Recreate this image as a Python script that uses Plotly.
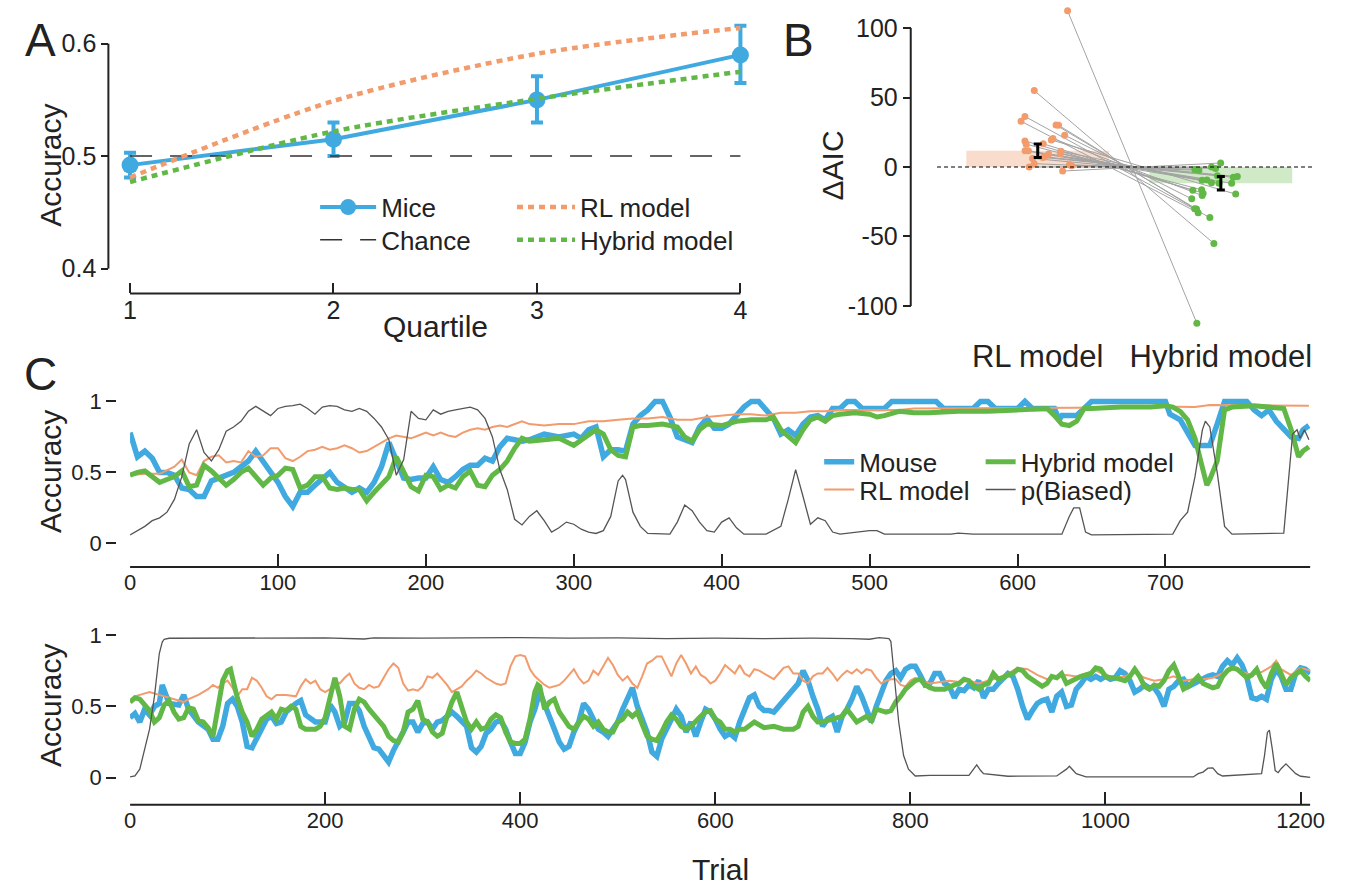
import numpy as np
import plotly.graph_objects as go

W, H = 1353, 890
FONT = "Liberation Sans, Arial, Helvetica, sans-serif"
BLUE = "#3FA9E0"
ORANGE = "#F29B6C"
GREEN = "#62B847"
GRAY = "#555555"
INK = "#222222"

# ---------------- Panel A data ----------------
quartiles = [1, 2, 3, 4]
mice_acc = [0.492, 0.515, 0.550, 0.590]
mice_err_hi = [0.011, 0.015, 0.021, 0.026]
mice_err_lo = [0.011, 0.015, 0.020, 0.025]
rl_acc = [0.481, 0.549, 0.591, 0.614]
hyb_acc = [0.477, 0.522, 0.551, 0.575]
chance = 0.5
a_yticks = [0.4, 0.5, 0.6]

# ---------------- Panel B data ----------------
b_categories = ["RL model", "Hybrid model"]
daic_rl = [112.4, 55.0, 36.4, 32.9, 30.2, 30.0, 22.9, 20.5, 19.5, 18.8, 16.7, 16.4, 11.7,
           11.7, 11.4, 9.5, 9.3, 7.4, 6.9, 6.2, 2.4, 1.7, 1.0, 0.0, -2.9]
daic_hyb = [-v for v in daic_rl]
jit_rl = [1.163, 0.981, 0.930, 0.909, 1.100, 1.114, 1.147, 1.083, 1.074, 0.930, 1.030, 0.937, 0.931,
          0.949, 1.127, 1.123, 1.059, 1.038, 1.028, 0.972, 0.981, 1.173, 1.185, 0.953, 1.136]
jit_hyb = [1.869, 1.962, 1.940, 1.876, 1.867, 1.857, 1.841, 1.898, 2.081, 1.903, 1.847, 1.895, 1.990,
           2.059, 1.949, 1.898, 1.924, 2.068, 2.090, 1.981, 1.880, 1.858, 1.971, 1.949, 1.999]
b_err = 4.9
b_yticks = [-100, -50, 0, 50, 100]

# ---------------- Panel C (top session) ----------------
top_mouse_t = [0, 5, 10, 15, 20, 25, 30, 35, 40, 45, 50, 55, 60, 65, 70, 75, 80, 85, 90, 95, 100, 105, 110,
               115, 120, 125, 130, 135, 140, 145, 150, 155, 160, 165, 170, 175, 180, 185, 190, 195, 200, 205,
               210, 215, 220, 225, 230, 235, 240, 245, 250, 255, 260, 265, 270, 280, 290, 300, 305, 310, 315,
               320, 325, 330, 335, 340, 345, 350, 355, 360, 365, 370, 375, 380, 385, 390, 395, 400, 405, 410,
               415, 420, 425, 430, 435, 440, 445, 450, 455, 460, 465, 470, 475, 480, 485, 490, 495, 500, 505,
               510, 515, 520, 530, 540, 545, 550, 560, 570, 575, 580, 585, 590, 600, 605, 610, 620, 625, 628,
               630, 640, 645, 650, 700, 703, 710, 715, 720, 725, 730, 735, 740, 755, 760, 765, 770, 775, 780,
               785, 790, 793, 797]
top_mouse_v = [0.78, 0.61, 0.65, 0.60, 0.50, 0.50, 0.48, 0.39, 0.38, 0.33, 0.33, 0.44, 0.46, 0.48, 0.50, 0.54,
               0.58, 0.65, 0.58, 0.51, 0.43, 0.33, 0.26, 0.36, 0.36, 0.41, 0.45, 0.50, 0.43, 0.39, 0.36, 0.39,
               0.36, 0.43, 0.54, 0.71, 0.58, 0.46, 0.45, 0.46, 0.46, 0.54, 0.45, 0.43, 0.47, 0.52, 0.55, 0.55,
               0.60, 0.58, 0.68, 0.74, 0.73, 0.72, 0.73, 0.77, 0.75, 0.77, 0.74, 0.80, 0.82, 0.61, 0.66, 0.66,
               0.65, 0.84, 0.90, 0.94, 1.00, 1.00, 0.89, 0.75, 0.73, 0.71, 0.82, 0.88, 0.81, 0.81, 0.84, 0.90,
               0.96, 1.00, 1.00, 0.94, 0.88, 0.77, 0.80, 0.76, 0.84, 0.89, 0.90, 0.87, 0.95, 0.95, 1.00, 1.00,
               0.95, 0.95, 0.95, 0.95, 1.00, 1.00, 1.00, 1.00, 1.00, 0.95, 0.95, 0.95, 1.00, 1.00, 0.95, 0.95,
               0.95, 1.00, 0.95, 0.95, 0.95, 0.87, 0.90, 0.90, 0.95, 1.00, 1.00, 0.91, 0.87, 0.77, 0.69, 0.69,
               0.69, 0.84, 1.00, 1.00, 0.94, 0.90, 0.94, 0.86, 0.81, 0.75, 0.74, 0.80, 0.83]
top_hyb_t = [0, 5, 10, 15, 20, 25, 30, 35, 40, 45, 50, 55, 60, 65, 70, 75, 80, 85, 90, 95, 100, 105, 110,
             115, 120, 125, 130, 135, 140, 145, 150, 155, 160, 165, 170, 175, 180, 185, 190, 195, 200, 205,
             210, 215, 220, 225, 230, 235, 240, 245, 250, 255, 260, 265, 270, 280, 290, 300, 310, 315, 320,
             325, 330, 335, 340, 345, 350, 360, 370, 375, 380, 385, 390, 400, 410, 420, 430, 435, 440, 445,
             450, 455, 460, 465, 470, 475, 480, 490, 500, 505, 510, 520, 530, 540, 560, 580, 600, 620, 625,
             630, 635, 640, 645, 650, 670, 690, 700, 705, 710, 715, 720, 725, 728, 730, 735, 740, 745, 760,
             775, 780, 785, 790, 793, 797]
top_hyb_v = [0.48, 0.50, 0.51, 0.47, 0.43, 0.45, 0.47, 0.51, 0.40, 0.41, 0.55, 0.51, 0.46, 0.41, 0.45, 0.50,
             0.53, 0.47, 0.41, 0.46, 0.48, 0.53, 0.52, 0.39, 0.41, 0.47, 0.47, 0.39, 0.38, 0.39, 0.38, 0.38,
             0.30, 0.36, 0.41, 0.47, 0.61, 0.51, 0.40, 0.37, 0.48, 0.47, 0.38, 0.41, 0.39, 0.47, 0.51, 0.41,
             0.40, 0.48, 0.52, 0.58, 0.67, 0.74, 0.72, 0.73, 0.74, 0.69, 0.77, 0.80, 0.77, 0.66, 0.62, 0.61,
             0.82, 0.83, 0.83, 0.84, 0.82, 0.75, 0.72, 0.80, 0.84, 0.83, 0.86, 0.87, 0.87, 0.89, 0.80, 0.76,
             0.71, 0.80, 0.87, 0.89, 0.86, 0.90, 0.91, 0.92, 0.91, 0.89, 0.90, 0.93, 0.92, 0.92, 0.93, 0.93,
             0.94, 0.95, 0.90, 0.84, 0.83, 0.86, 0.95, 0.95, 0.96, 0.96, 0.97, 0.96, 0.93, 0.87, 0.74, 0.54,
             0.41, 0.45, 0.58, 0.94, 0.96, 0.97, 0.95, 0.95, 0.80, 0.61, 0.65, 0.68]
top_rl_t = [0, 10, 20, 30, 35, 40, 45, 50, 55, 60, 65, 70, 75, 80, 85, 90, 95, 100, 105, 110, 115, 120, 125,
            130, 135, 140, 145, 150, 155, 160, 165, 170, 175, 180, 185, 190, 195, 200, 205, 210, 215, 220,
            225, 230, 235, 240, 245, 250, 255, 260, 265, 270, 280, 290, 300, 310, 320, 330, 340, 350, 360,
            370, 380, 390, 400, 410, 420, 430, 440, 450, 460, 470, 480, 490, 500, 510, 520, 530, 560, 600,
            640, 680, 700, 720, 730, 760, 797]
top_rl_v = [0.48, 0.49, 0.49, 0.54, 0.59, 0.50, 0.48, 0.58, 0.61, 0.62, 0.57, 0.58, 0.57, 0.65, 0.61, 0.62,
            0.67, 0.67, 0.60, 0.58, 0.61, 0.65, 0.66, 0.68, 0.66, 0.67, 0.69, 0.67, 0.64, 0.65, 0.68, 0.71,
            0.74, 0.76, 0.75, 0.74, 0.76, 0.78, 0.76, 0.78, 0.76, 0.75, 0.78, 0.80, 0.81, 0.80, 0.82, 0.83,
            0.82, 0.84, 0.86, 0.84, 0.83, 0.84, 0.84, 0.86, 0.86, 0.87, 0.88, 0.88, 0.89, 0.87, 0.87, 0.89,
            0.90, 0.91, 0.91, 0.90, 0.92, 0.92, 0.93, 0.93, 0.94, 0.94, 0.94, 0.94, 0.94, 0.95, 0.95, 0.955,
            0.955, 0.965, 0.965, 0.96, 0.975, 0.975, 0.97]
top_pb_t = [0, 5, 10, 15, 20, 25, 30, 35, 40, 45, 50, 55, 60, 65, 70, 75, 80, 85, 90, 95, 100, 105, 110,
            115, 120, 125, 130, 135, 140, 145, 150, 155, 160, 165, 170, 175, 180, 185, 190, 195, 200, 205,
            210, 215, 220, 225, 230, 235, 240, 245, 250, 255, 260, 265, 270, 275, 280, 285, 290, 295, 300,
            305, 310, 315, 320, 325, 330, 333, 335, 340, 345, 350, 360, 365, 370, 375, 380, 385, 390, 395,
            400, 405, 410, 415, 430, 435, 440, 445, 450, 455, 460, 465, 470, 475, 480, 500, 505, 510, 555,
            560, 570, 630, 635, 638, 642, 646, 650, 705, 710, 715, 720, 725, 727, 730, 735, 740, 745, 780,
            783, 786, 789, 791, 794, 797]
top_pb_v = [0.06, 0.09, 0.12, 0.16, 0.18, 0.22, 0.31, 0.47, 0.70, 0.80, 0.64, 0.58, 0.66, 0.79, 0.82, 0.86,
            0.93, 0.965, 0.93, 0.90, 0.95, 0.965, 0.97, 0.98, 0.95, 0.91, 0.96, 0.97, 0.965, 0.94, 0.93, 0.95,
            0.93, 0.88, 0.82, 0.73, 0.48, 0.59, 0.93, 0.88, 0.87, 0.94, 0.91, 0.93, 0.94, 0.95, 0.96, 0.94,
            0.88, 0.75, 0.52, 0.38, 0.17, 0.13, 0.19, 0.23, 0.16, 0.08, 0.11, 0.15, 0.135, 0.10, 0.08, 0.07,
            0.09, 0.19, 0.44, 0.48, 0.45, 0.22, 0.12, 0.07, 0.065, 0.065, 0.15, 0.27, 0.23, 0.15, 0.09, 0.08,
            0.15, 0.18, 0.11, 0.065, 0.065, 0.09, 0.12, 0.31, 0.52, 0.33, 0.135, 0.18, 0.16, 0.08, 0.065,
            0.09, 0.09, 0.065, 0.065, 0.072, 0.065, 0.065, 0.19, 0.25, 0.25, 0.08, 0.06, 0.065, 0.16, 0.22,
            0.47, 0.80, 0.86, 0.82, 0.50, 0.12, 0.065, 0.072, 0.43, 0.77, 0.80, 0.74, 0.80, 0.73]

# ---------------- Panel C (bottom session) ----------------
bot_mouse_t = [0, 5, 10, 15, 20, 25, 30, 33, 40, 50, 55, 60, 70, 80, 85, 90, 95, 100, 105, 110, 115, 120,
               125, 130, 135, 140, 145, 150, 155, 160, 170, 175, 180, 185, 190, 200, 205, 210, 215, 220, 225,
               230, 235, 240, 245, 250, 255, 260, 265, 270, 275, 280, 285, 290, 295, 300, 305, 310, 315, 320,
               325, 330, 335, 340, 345, 350, 355, 360, 365, 370, 375, 380, 385, 390, 395, 400, 405, 410, 415,
               420, 425, 430, 435, 440, 445, 450, 455, 460, 465, 470, 475, 480, 485, 490, 495, 500, 505, 510,
               515, 520, 525, 530, 535, 540, 545, 550, 555, 560, 565, 570, 575, 580, 585, 590, 595, 600, 605,
               610, 615, 620, 625, 630, 635, 640, 645, 650, 655, 660, 665, 670, 675, 680, 685, 690, 695, 700,
               705, 710, 715, 720, 725, 730, 735, 740, 745, 750, 755, 760, 765, 770, 775, 780, 785, 790, 795,
               800, 805, 810, 815, 820, 825, 830, 835, 840, 845, 850, 855, 860, 865, 870, 875, 880, 885, 890,
               895, 900, 905, 910, 915, 920, 925, 930, 935, 940, 945, 950, 955, 960, 965, 970, 975, 980, 985,
               990, 995, 1000, 1005, 1010, 1015, 1020, 1025, 1030, 1035, 1040, 1045, 1050, 1055, 1060, 1065,
               1070, 1075, 1080, 1085, 1090, 1095, 1100, 1105, 1110, 1115, 1120, 1125, 1130, 1135, 1140, 1145,
               1150, 1155, 1160, 1165, 1170, 1175, 1180, 1185, 1190, 1195, 1200, 1205, 1210]
bot_mouse_v = [0.42, 0.45, 0.39, 0.48, 0.44, 0.50, 0.52, 0.65, 0.52, 0.51, 0.58, 0.48, 0.39, 0.34, 0.27, 0.27,
               0.36, 0.52, 0.55, 0.50, 0.39, 0.22, 0.21, 0.28, 0.34, 0.41, 0.43, 0.38, 0.39, 0.46, 0.52, 0.54,
               0.44, 0.41, 0.39, 0.39, 0.51, 0.46, 0.36, 0.39, 0.52, 0.52, 0.47, 0.36, 0.28, 0.21, 0.20, 0.15,
               0.11, 0.19, 0.25, 0.32, 0.39, 0.39, 0.32, 0.38, 0.39, 0.34, 0.39, 0.40, 0.43, 0.46, 0.43, 0.39,
               0.36, 0.21, 0.18, 0.22, 0.31, 0.34, 0.39, 0.40, 0.34, 0.25, 0.17, 0.17, 0.25, 0.39, 0.48, 0.60,
               0.52, 0.43, 0.34, 0.25, 0.20, 0.22, 0.32, 0.39, 0.52, 0.48, 0.41, 0.34, 0.32, 0.29, 0.34, 0.39,
               0.48, 0.55, 0.63, 0.50, 0.41, 0.32, 0.18, 0.15, 0.27, 0.34, 0.39, 0.48, 0.43, 0.32, 0.39, 0.29,
               0.39, 0.48, 0.46, 0.41, 0.34, 0.29, 0.31, 0.28, 0.39, 0.48, 0.56, 0.58, 0.50, 0.47, 0.47, 0.46,
               0.50, 0.54, 0.57, 0.62, 0.66, 0.75, 0.68, 0.57, 0.48, 0.36, 0.41, 0.43, 0.32, 0.43, 0.48, 0.55,
               0.64, 0.57, 0.48, 0.39, 0.50, 0.60, 0.68, 0.73, 0.75, 0.70, 0.76, 0.78, 0.78, 0.72, 0.65, 0.66,
               0.73, 0.73, 0.66, 0.64, 0.56, 0.62, 0.61, 0.65, 0.63, 0.68, 0.56, 0.62, 0.62, 0.66, 0.69, 0.73,
               0.71, 0.62, 0.50, 0.41, 0.47, 0.52, 0.54, 0.55, 0.46, 0.57, 0.60, 0.50, 0.51, 0.62, 0.66, 0.71,
               0.69, 0.71, 0.69, 0.71, 0.69, 0.70, 0.75, 0.73, 0.68, 0.60, 0.62, 0.65, 0.63, 0.63, 0.58, 0.50,
               0.62, 0.64, 0.68, 0.69, 0.64, 0.66, 0.68, 0.69, 0.71, 0.72, 0.71, 0.78, 0.82, 0.79, 0.84, 0.79,
               0.70, 0.56, 0.55, 0.57, 0.55, 0.69, 0.76, 0.71, 0.62, 0.62, 0.73, 0.77, 0.76, 0.73]
bot_hyb_t = [0, 5, 10, 15, 20, 25, 30, 35, 40, 45, 50, 55, 60, 65, 70, 75, 80, 85, 90, 95, 100, 103, 105, 110,
             115, 120, 125, 130, 135, 140, 145, 150, 155, 160, 165, 170, 175, 180, 190, 195, 200, 205, 210,
             215, 220, 225, 230, 235, 240, 245, 250, 255, 260, 265, 270, 275, 280, 285, 290, 295, 300, 305,
             310, 315, 320, 325, 330, 335, 340, 345, 350, 355, 360, 365, 370, 375, 380, 385, 390, 395, 400,
             405, 410, 415, 418, 420, 425, 430, 435, 440, 445, 450, 455, 460, 465, 470, 475, 480, 485, 490,
             495, 500, 505, 510, 515, 520, 525, 530, 535, 540, 545, 550, 555, 560, 565, 570, 575, 580, 585,
             590, 595, 600, 605, 610, 615, 620, 625, 630, 640, 650, 660, 670, 680, 685, 690, 695, 700, 705,
             710, 720, 730, 735, 740, 745, 750, 755, 760, 765, 770, 775, 780, 785, 790, 795, 800, 805, 810,
             815, 820, 825, 835, 840, 845, 850, 855, 860, 865, 870, 875, 880, 885, 890, 895, 900, 905, 910,
             915, 920, 925, 930, 935, 940, 945, 950, 955, 960, 965, 970, 975, 980, 985, 990, 995, 1000, 1005,
             1010, 1015, 1020, 1025, 1030, 1035, 1040, 1045, 1050, 1055, 1060, 1065, 1070, 1075, 1080, 1085,
             1090, 1095, 1100, 1105, 1110, 1115, 1120, 1125, 1130, 1135, 1140, 1145, 1150, 1155, 1160, 1165,
             1170, 1175, 1180, 1185, 1190, 1195, 1200, 1205, 1210]
bot_hyb_v = [0.53, 0.56, 0.55, 0.51, 0.47, 0.39, 0.42, 0.51, 0.54, 0.46, 0.41, 0.42, 0.49, 0.48, 0.40, 0.39,
             0.35, 0.29, 0.48, 0.68, 0.75, 0.76, 0.70, 0.56, 0.46, 0.39, 0.29, 0.34, 0.41, 0.44, 0.46, 0.41,
             0.48, 0.47, 0.50, 0.48, 0.36, 0.34, 0.34, 0.36, 0.42, 0.56, 0.70, 0.57, 0.36, 0.34, 0.48, 0.55,
             0.53, 0.48, 0.44, 0.40, 0.36, 0.29, 0.26, 0.25, 0.32, 0.46, 0.48, 0.54, 0.41, 0.39, 0.32, 0.29,
             0.31, 0.43, 0.53, 0.60, 0.48, 0.39, 0.34, 0.39, 0.34, 0.35, 0.41, 0.44, 0.42, 0.32, 0.25, 0.24,
             0.24, 0.27, 0.41, 0.60, 0.65, 0.64, 0.48, 0.53, 0.55, 0.46, 0.41, 0.36, 0.34, 0.39, 0.43, 0.41,
             0.36, 0.39, 0.34, 0.32, 0.32, 0.39, 0.41, 0.46, 0.43, 0.46, 0.38, 0.29, 0.27, 0.26, 0.32, 0.39,
             0.44, 0.41, 0.36, 0.34, 0.36, 0.40, 0.43, 0.46, 0.47, 0.41, 0.39, 0.34, 0.34, 0.32, 0.34, 0.34,
             0.39, 0.35, 0.36, 0.34, 0.34, 0.36, 0.46, 0.50, 0.43, 0.39, 0.39, 0.41, 0.43, 0.48, 0.43, 0.39,
             0.41, 0.43, 0.40, 0.48, 0.47, 0.46, 0.47, 0.53, 0.57, 0.62, 0.65, 0.68, 0.69, 0.65, 0.63, 0.62,
             0.62, 0.64, 0.65, 0.66, 0.69, 0.68, 0.64, 0.62, 0.65, 0.66, 0.73, 0.69, 0.70, 0.72, 0.73, 0.76,
             0.75, 0.71, 0.69, 0.66, 0.64, 0.66, 0.71, 0.70, 0.73, 0.66, 0.68, 0.69, 0.71, 0.72, 0.73, 0.77,
             0.76, 0.71, 0.70, 0.70, 0.69, 0.68, 0.71, 0.76, 0.71, 0.64, 0.62, 0.65, 0.64, 0.68, 0.75, 0.79,
             0.71, 0.62, 0.64, 0.68, 0.71, 0.66, 0.64, 0.63, 0.64, 0.71, 0.75, 0.77, 0.76, 0.73, 0.70, 0.72,
             0.76, 0.68, 0.63, 0.73, 0.80, 0.73, 0.65, 0.70, 0.73, 0.75, 0.71, 0.68]
bot_rl_t = [0, 5, 10, 20, 30, 40, 50, 55, 60, 70, 80, 85, 90, 95, 100, 105, 110, 115, 120, 125, 130, 135, 140,
            145, 150, 160, 170, 175, 180, 185, 190, 195, 200, 205, 210, 215, 220, 225, 230, 235, 240, 245,
            250, 255, 260, 265, 270, 275, 280, 285, 290, 295, 300, 305, 310, 315, 320, 325, 330, 335, 340,
            345, 350, 355, 360, 365, 370, 375, 380, 385, 390, 395, 400, 405, 410, 415, 420, 425, 430, 435,
            440, 445, 450, 455, 460, 465, 470, 475, 480, 485, 490, 495, 500, 505, 510, 515, 520, 525, 530,
            535, 540, 545, 550, 555, 560, 565, 570, 575, 580, 585, 590, 595, 600, 605, 610, 615, 620, 625,
            630, 635, 640, 645, 650, 655, 660, 665, 670, 675, 680, 685, 690, 695, 700, 705, 710, 715, 720,
            725, 730, 735, 740, 745, 750, 755, 760, 765, 770, 775, 780, 785, 790, 795, 800, 805, 810, 820,
            830, 840, 850, 860, 870, 880, 890, 900, 910, 920, 930, 940, 950, 960, 970, 980, 990, 1000, 1010,
            1020, 1030, 1040, 1050, 1060, 1070, 1080, 1090, 1100, 1110, 1120, 1130, 1140, 1150, 1160, 1170,
            1175, 1180, 1190, 1200, 1210]
bot_rl_v = [0.53, 0.57, 0.58, 0.60, 0.58, 0.56, 0.54, 0.53, 0.55, 0.58, 0.62, 0.65, 0.63, 0.66, 0.68, 0.63,
            0.57, 0.62, 0.62, 0.70, 0.68, 0.63, 0.57, 0.55, 0.58, 0.58, 0.57, 0.64, 0.69, 0.66, 0.68, 0.62,
            0.60, 0.62, 0.68, 0.66, 0.70, 0.73, 0.66, 0.63, 0.62, 0.65, 0.63, 0.64, 0.70, 0.76, 0.80, 0.77,
            0.66, 0.61, 0.62, 0.61, 0.64, 0.71, 0.70, 0.73, 0.69, 0.65, 0.60, 0.62, 0.64, 0.68, 0.71, 0.75,
            0.73, 0.70, 0.68, 0.66, 0.65, 0.66, 0.78, 0.85, 0.86, 0.85, 0.76, 0.71, 0.68, 0.65, 0.63, 0.64,
            0.65, 0.68, 0.72, 0.76, 0.70, 0.66, 0.68, 0.75, 0.72, 0.78, 0.84, 0.79, 0.72, 0.68, 0.71, 0.66,
            0.63, 0.71, 0.80, 0.82, 0.85, 0.85, 0.78, 0.71, 0.80, 0.86, 0.80, 0.73, 0.78, 0.72, 0.70, 0.66,
            0.68, 0.73, 0.79, 0.76, 0.73, 0.79, 0.73, 0.71, 0.76, 0.75, 0.73, 0.71, 0.69, 0.73, 0.77, 0.78,
            0.73, 0.73, 0.68, 0.66, 0.71, 0.73, 0.73, 0.77, 0.73, 0.68, 0.72, 0.75, 0.73, 0.76, 0.73, 0.76,
            0.75, 0.70, 0.66, 0.68, 0.69, 0.69, 0.65, 0.64, 0.68, 0.70, 0.68, 0.66, 0.67, 0.68, 0.67, 0.68,
            0.66, 0.68, 0.70, 0.73, 0.77, 0.76, 0.72, 0.69, 0.71, 0.72, 0.71, 0.73, 0.75, 0.72, 0.70, 0.71,
            0.74, 0.70, 0.68, 0.69, 0.71, 0.68, 0.69, 0.69, 0.70, 0.73, 0.76, 0.74, 0.72, 0.74, 0.78, 0.82,
            0.76, 0.72, 0.77, 0.75]
bot_pb_t = [0, 5, 10, 15, 20, 25, 28, 30, 33, 35, 40, 60, 100, 150, 200, 240, 250, 300, 350, 400, 450, 500,
            550, 600, 650, 700, 740, 758, 768, 778, 780, 783, 788, 793, 798, 805, 820, 860, 865, 868, 872,
            875, 900, 950, 960, 963, 967, 970, 980, 1090, 1095, 1100, 1105, 1110, 1115, 1120, 1160, 1163,
            1166, 1168, 1171, 1174, 1177, 1180, 1185, 1190, 1195, 1200, 1210]
bot_pb_v = [0.005, 0.012, 0.06, 0.20, 0.34, 0.57, 0.73, 0.87, 0.95, 0.97, 0.977, 0.978, 0.98, 0.978, 0.98,
            0.972, 0.98, 0.978, 0.98, 0.982, 0.978, 0.98, 0.975, 0.978, 0.975, 0.978, 0.975, 0.97, 0.982,
            0.975, 0.954, 0.73, 0.39, 0.155, 0.06, 0.012, 0.016, 0.016, 0.06, 0.09, 0.05, 0.028, 0.01,
            0.012, 0.06, 0.08, 0.05, 0.028, 0.005, 0.005, 0.028, 0.039, 0.067, 0.069, 0.028, 0.012, 0.028,
            0.155, 0.317, 0.333, 0.20, 0.05, 0.035, 0.063, 0.097, 0.063, 0.028, 0.01, 0.002]
c_yticks = [0, 0.5, 1]
top_xticks = [0, 100, 200, 300, 400, 500, 600, 700]
bot_xticks = [0, 200, 400, 600, 800, 1000, 1200]


# ---------------- geometry helpers (window pixels -> paper) ----------------
def clamp(v):
    return min(1.0, max(0.0, v))


def px(x):
    return x / W


def py(y):
    return 1 - y / H


def xdom(rng, v1, p1, v2, p2):
    s = (p2 - p1) / (v2 - v1)
    return [clamp(px(p1 - (v1 - rng[0]) * s)), clamp(px(p2 + (rng[1] - v2) * s))]


def ydom(rng, v1, p1, v2, p2):
    s = (p1 - p2) / (v2 - v1)
    return [clamp(py(p1 + (v1 - rng[0]) * s)), clamp(py(p2 - (rng[1] - v2) * s))]


fig = go.Figure()

# ---------------- Panel A ----------------
fig.add_trace(go.Scatter(x=quartiles, y=mice_acc, mode="lines+markers", name="Mice",
                         line=dict(color=BLUE, width=4), marker=dict(color=BLUE, size=17),
                         error_y=dict(type="data", symmetric=False, array=mice_err_hi,
                                      arrayminus=mice_err_lo, color=BLUE, thickness=4, width=6),
                         xaxis="x", yaxis="y", legend="legend", cliponaxis=False))
fig.add_trace(go.Scatter(x=[quartiles[0], quartiles[-1]], y=[chance, chance], mode="lines", name="Chance",
                         line=dict(color="#333333", width=1.5, dash="22px,18px"),
                         xaxis="x", yaxis="y", legend="legend2"))
fig.add_trace(go.Scatter(x=quartiles, y=rl_acc, mode="lines", name="RL model",
                         line=dict(color=ORANGE, width=4.5, dash="6px,5px", shape="spline", smoothing=0.8),
                         xaxis="x", yaxis="y", legend="legend3"))
fig.add_trace(go.Scatter(x=quartiles, y=hyb_acc, mode="lines", name="Hybrid model",
                         line=dict(color=GREEN, width=4.5, dash="6px,5px", shape="spline", smoothing=0.8),
                         xaxis="x", yaxis="y", legend="legend4"))

# ---------------- Panel B ----------------
med_rl = float(np.median(daic_rl))
med_hyb = float(np.median(daic_hyb))
fig.add_trace(go.Bar(x=[1, 2], y=[med_rl, med_hyb], width=0.78,
                     marker=dict(color=["rgba(242,155,108,0.35)", "rgba(98,184,71,0.30)"], line_width=0),
                     xaxis="x2", yaxis="y2", showlegend=False))
lx, ly = [], []
for a, b, v, w in zip(jit_rl, jit_hyb, daic_rl, daic_hyb):
    lx += [a, b, None]
    ly += [v, w, None]
fig.add_trace(go.Scatter(x=lx, y=ly, mode="lines", line=dict(color="#A3A3A3", width=1),
                         xaxis="x2", yaxis="y2", showlegend=False))
fig.add_trace(go.Scatter(x=jit_rl, y=daic_rl, mode="markers", marker=dict(color=ORANGE, size=7),
                         xaxis="x2", yaxis="y2", showlegend=False, cliponaxis=False))
fig.add_trace(go.Scatter(x=jit_hyb, y=daic_hyb, mode="markers", marker=dict(color=GREEN, size=7),
                         xaxis="x2", yaxis="y2", showlegend=False, cliponaxis=False))
fig.add_trace(go.Scatter(x=[1, 2], y=[med_rl, med_hyb], mode="markers", marker=dict(color="black", size=1),
                         error_y=dict(type="constant", value=b_err, color="black", thickness=3, width=4),
                         xaxis="x2", yaxis="y2", showlegend=False))

# ---------------- Panel C top ----------------
fig.add_trace(go.Scatter(x=top_mouse_t, y=top_mouse_v, mode="lines", name="Mouse",
                         line=dict(color=BLUE, width=5.5), xaxis="x3", yaxis="y3", legend="legend5"))
fig.add_trace(go.Scatter(x=top_rl_t, y=top_rl_v, mode="lines", name="RL model",
                         line=dict(color=ORANGE, width=2), xaxis="x3", yaxis="y3", legend="legend6"))
fig.add_trace(go.Scatter(x=top_hyb_t, y=top_hyb_v, mode="lines", name="Hybrid model",
                         line=dict(color=GREEN, width=5), xaxis="x3", yaxis="y3", legend="legend7"))
fig.add_trace(go.Scatter(x=top_pb_t, y=top_pb_v, mode="lines", name="p(Biased)",
                         line=dict(color=GRAY, width=1.3), xaxis="x3", yaxis="y3", legend="legend8"))

# ---------------- Panel C bottom ----------------
fig.add_trace(go.Scatter(x=bot_mouse_t, y=bot_mouse_v, mode="lines", line=dict(color=BLUE, width=5.5),
                         xaxis="x4", yaxis="y4", showlegend=False))
fig.add_trace(go.Scatter(x=bot_rl_t, y=bot_rl_v, mode="lines", line=dict(color=ORANGE, width=2),
                         xaxis="x4", yaxis="y4", showlegend=False))
fig.add_trace(go.Scatter(x=bot_hyb_t, y=bot_hyb_v, mode="lines", line=dict(color=GREEN, width=5),
                         xaxis="x4", yaxis="y4", showlegend=False))
fig.add_trace(go.Scatter(x=bot_pb_t, y=bot_pb_v, mode="lines", line=dict(color=GRAY, width=1.3),
                         xaxis="x4", yaxis="y4", showlegend=False))


# ---------------- axes ----------------
def axis(size, **kw):
    base = dict(showgrid=False, zeroline=False, showline=False, tickcolor=INK, tickwidth=2,
                tickfont=dict(family=FONT, color=INK, size=size))
    base.update(kw)
    return base


a_xr, a_yr = [0.9, 4.1], [0.38, 0.63]
b_xr, b_yr = [0.4, 2.6], [-116, 116]
c1_xr, c2_xr = [0, 798], [0, 1210]
c_yr = [-0.06, 1.06]

layout_axes = dict(
    xaxis=axis(25, domain=xdom(a_xr, 1, 126, 4, 746), range=a_xr, anchor="free", position=py(292),
               tickvals=quartiles, ticks="inside", ticklen=10),
    yaxis=axis(25, domain=ydom(a_yr, 0.4, 267, 0.6, 40), range=a_yr, anchor="free", position=px(104),
               tickvals=a_yticks, ticktext=[f"{v:.1f}" for v in a_yticks], ticks="outside", ticklen=7),
    xaxis2=axis(31, domain=xdom(b_xr, 1, 1048, 2, 1234), range=b_xr, anchor="free", position=py(334),
                tickvals=[1, 2], ticktext=b_categories, ticks=""),
    yaxis2=axis(25, domain=ydom(b_yr, -100, 304.7, 100, 24.3), range=b_yr, anchor="free", position=px(919),
                tickvals=b_yticks, ticktext=[str(v) for v in b_yticks], ticks="outside", ticklen=8),
    xaxis3=axis(22, domain=xdom(c1_xr, 0, 126, 700, 1177.7), range=c1_xr, anchor="free", position=py(568),
                tickvals=top_xticks, ticks="inside", ticklen=13),
    yaxis3=axis(22, domain=ydom(c_yr, 0, 544.3, 1, 401), range=c_yr, anchor="free", position=px(112),
                tickvals=c_yticks, ticktext=["0", "0.5", "1"], ticks="outside", ticklen=10),
    xaxis4=axis(22, domain=xdom(c2_xr, 0, 126, 1200, 1315), range=c2_xr, anchor="free", position=py(808),
                tickvals=bot_xticks, ticks="inside", ticklen=13),
    yaxis4=axis(22, domain=ydom(c_yr, 0, 780.7, 1, 636.7), range=c_yr, anchor="free", position=px(112),
                tickvals=c_yticks, ticktext=["0", "0.5", "1"], ticks="outside", ticklen=10),
)

# axis lines (MATLAB-style, spanning the tick range only)
shapes = [
    dict(type="line", xref="paper", yref="y", x0=px(104), x1=px(104), y0=a_yticks[0], y1=a_yticks[-1],
         line=dict(color=INK, width=2)),
    dict(type="line", xref="x", yref="paper", x0=quartiles[0], x1=quartiles[-1], y0=py(292), y1=py(292),
         line=dict(color=INK, width=2)),
    dict(type="line", xref="paper", yref="y2", x0=px(919), x1=px(919), y0=b_yticks[0], y1=b_yticks[-1],
         line=dict(color=INK, width=2)),
    dict(type="line", xref="x2", yref="y2", x0=0.45, x1=2.5, y0=0, y1=0,
         line=dict(color="black", width=1.2, dash="4px,3px"), layer="above"),
    dict(type="line", xref="x3", yref="paper", x0=c1_xr[0], x1=c1_xr[1], y0=py(568), y1=py(568),
         line=dict(color=INK, width=2)),
    dict(type="line", xref="x4", yref="paper", x0=c2_xr[0], x1=c2_xr[1], y0=py(808), y1=py(808),
         line=dict(color=INK, width=2)),
]


def ann(text, x, y, size, angle=0):
    return dict(text=text, x=px(x), y=py(y), xref="paper", yref="paper", showarrow=False,
                xanchor="center", yanchor="middle", textangle=angle,
                font=dict(family=FONT, size=size, color=INK))


annotations = [
    ann("A", 35, 36, 46), ann("B", 805, 36, 46), ann("C", 35, 373, 46),
    ann("Accuracy", 45, 163, 30, -90), ann("Quartile", 436, 325, 30),
    ann("ΔAIC", 840, 163, 30, -90),
    ann("Accuracy", 45, 472, 30, -90), ann("Accuracy", 45, 708, 30, -90),
    ann("Trial", 726, 873, 30),
]


def leg(x_text, y_center, itemwidth, size=26):
    return dict(x=px(x_text - itemwidth - 10), y=py(y_center), xanchor="left", yanchor="middle",
                itemwidth=itemwidth, bgcolor="rgba(0,0,0,0)", borderwidth=0,
                font=dict(family=FONT, size=size, color=INK), itemclick=False, itemdoubleclick=False)


fig.update_layout(
    width=W, height=H, autosize=False,
    margin=dict(l=0, r=0, t=0, b=0, pad=0),
    paper_bgcolor="white", plot_bgcolor="white",
    font=dict(family=FONT, color=INK),
    showlegend=True,
    shapes=shapes, annotations=annotations,
    legend=leg(380, 205, 56), legend2=leg(380, 238, 56),
    legend3=leg(582, 205, 58), legend4=leg(582, 238, 58),
    legend5=leg(866, 462, 30), legend6=leg(866, 490, 30),
    legend7=leg(1030, 462, 30), legend8=leg(1030, 490, 30),
    **layout_axes,
)

fig.write_html("out.html", config={"displayModeBar": False},
               post_script="document.body.style.margin='0px';document.body.style.overflow='hidden';")
